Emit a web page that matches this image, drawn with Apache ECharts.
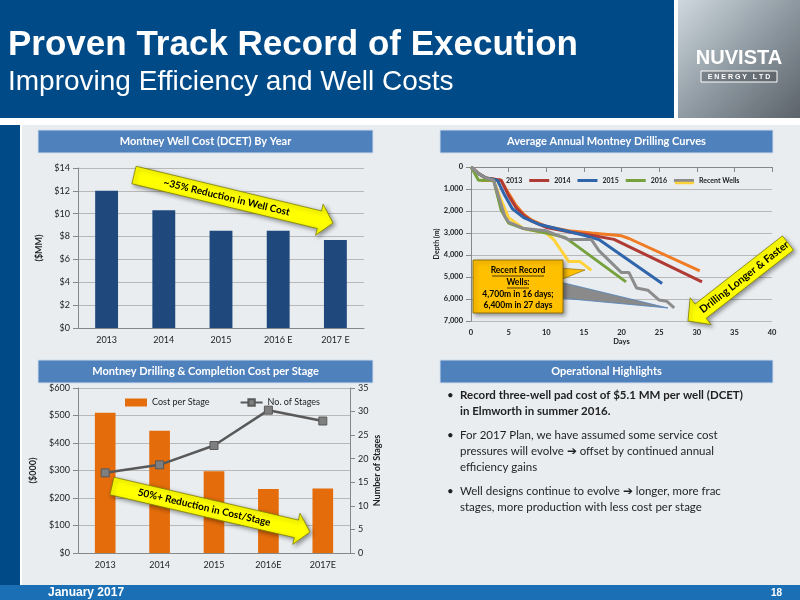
<!DOCTYPE html>
<html><head><meta charset="utf-8">
<script src="https://cdn.jsdelivr.net/npm/echarts@6/dist/echarts.min.js"></script>
<style>html,body{margin:0;padding:0;}#c{width:800px;height:600px;}</style>
</head><body><div id="c"></div>
<script>
const costYears = ['2013','2014','2015','2016 E','2017 E'];
const wellCost = [12.0, 10.3, 8.5, 8.5, 7.7];
const stageYears = ['2013','2014','2015','2016E','2017E'];
const costPerStage = [510, 445, 297, 233, 235];
const numStages = [17, 18.7, 22.8, 30.3, 28];
const curve2013 = [[0,0],[1,300],[2,500],[4,600],[5,1200],[6,1750],[7,2150],[8,2400],[10,2700],[13,2900],[16,3000],[20,3130],[21,3250],[30.4,4720]];
const curve2014 = [[0,0],[1,300],[2,500],[4,600],[5,1300],[6,1850],[7,2200],[8,2450],[10,2750],[13,2950],[16,3100],[19,3290],[30.7,5220]];
const curve2015 = [[0,0],[1,300],[2,500],[3.5,600],[4.5,1300],[5.5,1900],[7,2300],[9,2600],[12,2850],[15,3100],[17,3300],[25.4,5300]];
const curve2016 = [[0,0],[0.5,300],[1,600],[3,600],[4,1950],[5,2550],[7,2800],[10,3000],[12.5,3200],[20.6,5220]];
const recentGray = [[0,0],[1,300],[2,500],[3,600],[4.5,2250],[5,2500],[7,2800],[10,2900],[13,3300],[16,3300],[17,3800],[20,4800],[21,4800],[22,5500],[23.5,5600],[25,6050],[26,6100],[27,6400]];
const recentYellow = [[0,0],[1,300],[2,500],[3,600],[4,1500],[5,2300],[7,2800],[10,3000],[11,3300],[12,3800],[13,4300],[14.5,4300],[16,4700]];

const F = 'Lato, "Open Sans", sans-serif';
const chart = echarts.init(document.getElementById('c'));

function arrow(x1,y1,x2,y2,bw,hw,hl,label,fs){
  const dx=x2-x1, dy=y2-y1, len=Math.hypot(dx,dy), ux=dx/len, uy=dy/len, nx=-uy, ny=ux;
  const P=(a,b)=>[x1+ux*a+nx*b, y1+uy*a+ny*b];
  const pts=[P(0,-bw),P(len-hl,-bw),P(len-hl,-hw),P(len,0),P(len-hl,hw),P(len-hl,bw),P(0,bw)];
  let ang=Math.atan2(dy,dx); if (Math.abs(ang)>Math.PI/2) ang+= (ang>0?-Math.PI:Math.PI);
  const mx=x1+ux*(len-hl)/2, my=y1+uy*(len-hl)/2;
  return [
    {type:'polygon',shape:{points:pts},style:{fill:'#ffff00',stroke:'#7f7f00',lineWidth:0.8,shadowBlur:4,shadowColor:'rgba(0,0,0,0.4)',shadowOffsetX:2,shadowOffsetY:2},z:50},
    {type:'text',x:mx,y:my,rotation:-ang,style:{text:label,font:'bold '+fs+'px '+F,fill:'#000',align:'center',verticalAlign:'middle'},z:51}
  ];
}
function panelHead(x,y,w,h,t){
  return [{type:'rect',shape:{x:x,y:y,width:w,height:h},style:{fill:'#4f81bd',stroke:'#d0dcec',lineWidth:1},z:1},
  {type:'text',x:x+w/2,y:y+h/2,style:{text:t,font:'bold 11px '+F,fill:'#fff',align:'center',verticalAlign:'middle'},z:2}];
}
function tline(x,y,t,bold){return {type:'text',x:x,y:y,style:{text:t,font:(bold?'bold ':'')+'11.5px '+F,fill:'#1f1f1f'},z:5};}

const gfx = [
  {type:'rect',shape:{x:0,y:0,width:800,height:600},style:{fill:'#ffffff'},z:-10},
  {type:'rect',shape:{x:0,y:0,width:674,height:118},style:{fill:'#004b87'},z:0},
  {type:'rect',shape:{x:678,y:0,width:122,height:118},style:{fill:new echarts.graphic.LinearGradient(0,0,1,1,[{offset:0,color:'#cfd8de'},{offset:0.5,color:'#8f9aa2'},{offset:1,color:'#5c636a'}])},z:0},
  {type:'text',x:739,y:58,style:{text:'NUVISTA',font:'bold 20px "Liberation Sans Narrow", sans-serif',fill:'#fff',align:'center',verticalAlign:'middle'},z:2},
  {type:'rect',shape:{x:701,y:71,width:76,height:11},style:{fill:'rgba(0,0,0,0.2)',stroke:'#fff',lineWidth:1},z:2},
  {type:'text',x:739,y:77,style:{text:'E N E R G Y   L T D',font:'bold 7px sans-serif',fill:'#fff',align:'center',verticalAlign:'middle'},z:3},
  {type:'text',x:8,y:45,style:{text:'Proven Track Record of Execution',font:'bold 35px "Liberation Sans", Arial, sans-serif',fill:'#fff',verticalAlign:'middle'},z:2},
  {type:'text',x:8,y:82,style:{text:'Improving Efficiency and Well Costs',font:'28px "Liberation Sans", Arial, sans-serif',fill:'#fff',verticalAlign:'middle'},z:2},
  {type:'rect',shape:{x:0,y:125,width:20,height:460},style:{fill:'#004b87'},z:0},
  {type:'rect',shape:{x:22,y:125,width:778,height:460},style:{fill:'#e9edf0'},z:-5},
  {type:'rect',shape:{x:0,y:585,width:800,height:15},style:{fill:'#1a6fb5'},z:0},
  {type:'text',x:48,y:593,style:{text:'January 2017',font:'bold 12px "Liberation Sans", Arial, sans-serif',fill:'#fff',verticalAlign:'middle'},z:2},
  {type:'text',x:782,y:593,style:{text:'18',font:'bold 10px "Liberation Sans", Arial, sans-serif',fill:'#fff',align:'right',verticalAlign:'middle'},z:2},
  ...panelHead(38,130,335,23,'Montney Well Cost (DCET) By Year'),
  ...panelHead(440,130,333,23,'Average Annual Montney Drilling Curves'),
  ...panelHead(38,360,335,23,'Montney Drilling & Completion Cost per Stage'),
  ...panelHead(440,360,333,23,'Operational Highlights'),
  ...arrow(134,175,333,223,9,16,14,'~35% Reduction in Well Cost',10),
  ...arrow(112,486,310,532,9,16,14,'50%+ Reduction in Cost/Stage',10),
  ...arrow(788,243,688,321,9,17,16,'Drilling Longer & Faster',10.5),
  {type:'polygon',shape:{points:[[560,282],[668,308],[560,298]]},style:{fill:'#8a8a8a',stroke:'#4f81bd',lineWidth:0.8},z:40},
  {type:'polygon',shape:{points:[[560,268],[585,270],[560,280]]},style:{fill:'#ffc000',stroke:'#7f6000',lineWidth:0.6},z:41},
  {type:'rect',shape:{x:473,y:260,width:90,height:53},style:{fill:'#ffc000',stroke:'#7f6000',lineWidth:0.8,shadowBlur:4,shadowColor:'rgba(0,0,0,0.4)',shadowOffsetX:2,shadowOffsetY:2},z:42},
  {type:'text',x:518,y:270,style:{text:'Recent Record',font:'bold 8.5px '+F,fill:'#000',align:'center',verticalAlign:'middle'},z:43},
  {type:'line',shape:{x1:492,y1:276,x2:544,y2:276},style:{stroke:'#000',lineWidth:0.7},z:43},
  {type:'text',x:518,y:282,style:{text:'Wells:',font:'bold 8.5px '+F,fill:'#000',align:'center',verticalAlign:'middle'},z:43},
  {type:'line',shape:{x1:507,y1:288,x2:529,y2:288},style:{stroke:'#000',lineWidth:0.7},z:43},
  {type:'text',x:518,y:294,style:{text:'4,700m in 16 days;',font:'bold 8.5px '+F,fill:'#000',align:'center',verticalAlign:'middle'},z:43},
  {type:'text',x:518,y:305,style:{text:'6,400m in 27 days',font:'bold 8.5px '+F,fill:'#000',align:'center',verticalAlign:'middle'},z:43},
  {type:'line',shape:{x1:675,y1:183,x2:694,y2:183},style:{stroke:'#ffd23a',lineWidth:2.5},z:10},
  tline(447,389,'•',false), tline(460,389,'Record three-well pad cost of $5.1 MM per well (DCET)',true),
  tline(460,405,'in Elmworth in summer 2016.',true),
  tline(447,429,'•',false), tline(460,429,'For 2017 Plan, we have assumed some service cost',false),
  tline(460,445,'pressures will evolve \u2794 offset by continued annual',false),
  tline(460,461,'efficiency gains',false),
  tline(447,485,'•',false), tline(460,485,'Well designs continue to evolve \u2794 longer, more frac',false),
  tline(460,501,'stages, more production with less cost per stage',false)
];

const axLbl = {fontFamily:F, fontSize:9, color:'#222'};
const axLine = {lineStyle:{color:'#888'}};
const split = {lineStyle:{color:'#b8b8b8'}};
const nameSt = (s)=>({fontSize:s,fontWeight:'bold',fontFamily:F,color:'#222'});
function ln(name,data,color){return {name:name,type:'line',xAxisIndex:1,yAxisIndex:1,data:data,symbol:'none',lineStyle:{color:color,width:3},itemStyle:{color:color},z:5};}

chart.setOption({
  animation:false,
  textStyle:{fontFamily:F},
  graphic:gfx,
  legend:[
    {data:['2013','2014','2015','2016','Recent Wells'],left:476,top:172,itemGap:7,itemWidth:20,itemHeight:3,icon:'rect',textStyle:{fontSize:7,fontFamily:F,color:'#222',fontWeight:'bold'}},
    {data:[{name:'Cost per Stage',icon:'rect'},{name:'No. of Stages'}],left:120,top:393,itemGap:30,itemWidth:22,itemHeight:8,textStyle:{fontSize:9,fontFamily:F,color:'#222'}}
  ],
  grid:[
    {left:78,top:168,width:286,height:160},
    {left:471,top:167,width:301,height:154},
    {left:78,top:388,width:272,height:165}
  ],
  xAxis:[
    {gridIndex:0,type:'category',data:costYears,axisLabel:axLbl,axisLine:axLine,axisTick:{lineStyle:{color:'#888'}}},
    {gridIndex:1,type:'value',min:0,max:40,interval:5,name:'Days',nameLocation:'middle',nameGap:16,nameTextStyle:nameSt(7.5),axisLabel:{fontFamily:F,fontSize:7.5,color:'#222',fontWeight:'bold'},axisLine:{show:true,lineStyle:{color:'#888'}},axisTick:{show:true},splitLine:{show:false}},
    {gridIndex:2,type:'category',data:stageYears,axisLabel:axLbl,axisLine:axLine,axisTick:{lineStyle:{color:'#888'}}}
  ],
  yAxis:[
    {gridIndex:0,type:'value',min:0,max:14,interval:2,name:'($MM)',nameLocation:'middle',nameGap:34,nameTextStyle:nameSt(9),axisLabel:Object.assign({formatter:v=>'$'+v},axLbl),axisLine:{show:true,lineStyle:{color:'#888'}},axisTick:{show:true},splitLine:split},
    {gridIndex:1,type:'value',inverse:true,min:0,max:7000,interval:1000,name:'Depth (m)',nameLocation:'middle',nameGap:26,nameTextStyle:nameSt(7),axisLabel:{fontFamily:F,fontSize:7.5,color:'#222',fontWeight:'bold',formatter:v=>v.toLocaleString('en-US')},axisLine:{show:true,lineStyle:{color:'#888'}},splitLine:split},
    {gridIndex:2,type:'value',min:0,max:600,interval:100,name:'($000)',nameLocation:'middle',nameGap:40,nameTextStyle:nameSt(9),axisLabel:Object.assign({formatter:v=>'$'+v},axLbl),axisLine:{show:true,lineStyle:{color:'#888'}},axisTick:{show:true},splitLine:split},
    {gridIndex:2,type:'value',position:'right',min:0,max:35,interval:5,name:'Number of Stages',nameLocation:'middle',nameGap:22,nameTextStyle:nameSt(9),axisLabel:axLbl,axisLine:{show:true,lineStyle:{color:'#888'}},axisTick:{show:true},splitLine:{show:false}}
  ],
  series:[
    {type:'bar',xAxisIndex:0,yAxisIndex:0,data:wellCost,barWidth:'40%',itemStyle:{color:'#1f497d'}},
    ln('2013',curve2013,'#f07b22'),
    ln('2014',curve2014,'#b03a34'),
    ln('2015',curve2015,'#2f65aa'),
    ln('2016',curve2016,'#77a13d'),
    ln('Recent Wells',recentGray,'#8c8c8c'),
    Object.assign(ln('Recent Yellow',recentYellow,'#ffd23a'),{z:4}),
    {name:'Cost per Stage',type:'bar',xAxisIndex:2,yAxisIndex:2,data:costPerStage,barWidth:'38%',itemStyle:{color:'#e46c0a'}},
    {name:'No. of Stages',type:'line',xAxisIndex:2,yAxisIndex:3,data:numStages,symbol:'rect',symbolSize:8,lineStyle:{color:'#595959',width:2.5},itemStyle:{color:'#7f7f7f',borderColor:'#595959',borderWidth:1},z:6}
  ]
});
</script></body></html>
